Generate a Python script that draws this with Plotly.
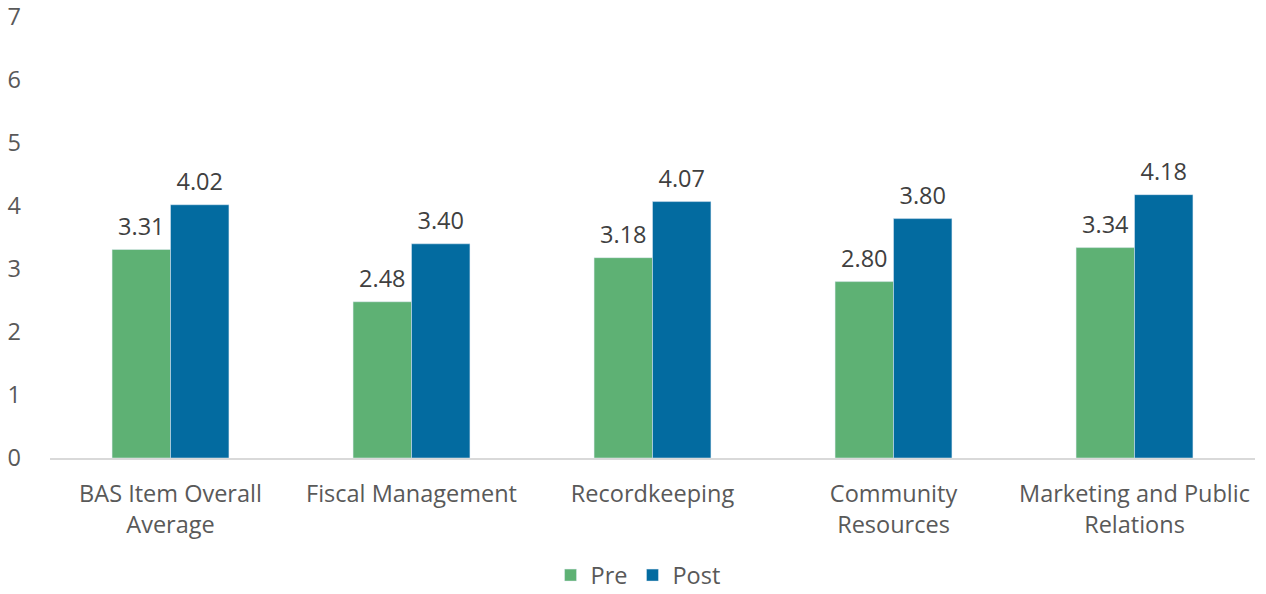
import plotly.graph_objects as go

categories = ["BAS Item Overall<br>Average", "Fiscal Management", "Recordkeeping",
              "Community<br>Resources", "Marketing and Public<br>Relations"]
pre = [3.31, 2.48, 3.18, 2.80, 3.34]
post = [4.02, 3.40, 4.07, 3.80, 4.18]
series = [("Pre", pre, "#5EB174"), ("Post", post, "#036BA0")]

font_family = "Open Sans"
fs = 23.5
fig = go.Figure()
for i, (name, vals, color) in enumerate(series):
    fig.add_trace(go.Bar(x=categories, y=vals, name=name, marker_color=color,
                         offsetgroup=str(i), alignmentgroup="a"))
for i, (name, vals, color) in enumerate(series):
    fig.add_trace(go.Scatter(x=categories, y=vals, mode="markers+text",
                             text=[f"{v:.2f}" for v in vals], textposition="top center",
                             textfont=dict(size=fs, color="#404040", family=font_family),
                             marker=dict(size=12, opacity=0), showlegend=False,
                             hoverinfo="skip", cliponaxis=False,
                             offsetgroup=str(i), alignmentgroup="a"))

fig.update_layout(
    width=1266, height=594,
    margin=dict(l=50, r=11, t=17, b=136, autoexpand=False),
    barmode="group", bargap=0.515, bargroupgap=0,
    scattermode="group", scattergap=0.515,
    plot_bgcolor="white", paper_bgcolor="white",
    font=dict(family=font_family, size=fs, color="#595959"),
    legend=dict(orientation="h", x=0.488, xanchor="center", y=-0.266, yanchor="middle",
                font=dict(size=fs, color="#595959"), traceorder="normal",
                itemwidth=30, tracegroupgap=0),
    xaxis=dict(showline=True, linecolor="#D9D9D9", linewidth=2, ticks="",
               tickfont=dict(size=fs, color="#595959"), showgrid=False,
               automargin=False, ticklabelstandoff=14),
    yaxis=dict(range=[0, 7], dtick=1, showgrid=False, zeroline=False, showline=False,
               tickfont=dict(size=fs, color="#595959"), ticklabelstandoff=28,
               automargin=False),
)
fig.write_html("out.html", config={"displayModeBar": False},
               post_script="document.body.style.margin='0';document.body.style.overflow='hidden';")
